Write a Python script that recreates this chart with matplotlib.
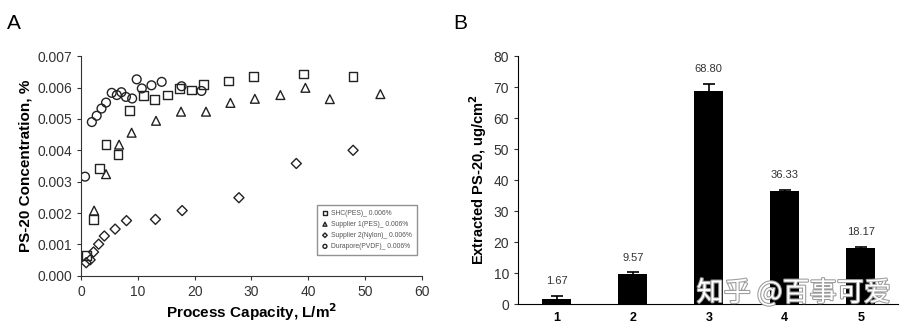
import matplotlib
matplotlib.use("Agg")
import matplotlib.pyplot as plt
import matplotlib.patheffects as pe
import numpy as np

plt.rcParams['font.family'] = ['Liberation Sans', 'DejaVu Sans']

# ---------------- Panel A data ----------------
shc_x = [0.9, 2.2, 3.2, 4.4, 6.5, 8.6, 11.0, 13.0, 15.2, 17.4, 19.4, 21.6, 26.0, 30.4, 39.1, 47.9]
shc_y = [0.00064, 0.00180, 0.00343, 0.00418, 0.00387, 0.00527, 0.00574, 0.00563, 0.00576, 0.00597,
         0.00592, 0.00610, 0.00621, 0.00636, 0.00643, 0.00635]

sup1_x = [2.3, 4.4, 6.7, 8.9, 13.2, 17.6, 22.0, 26.3, 30.6, 35.1, 39.5, 43.8, 52.7]
sup1_y = [0.00208, 0.00324, 0.00418, 0.00456, 0.00494, 0.00523, 0.00523, 0.00551, 0.00564,
          0.00576, 0.00599, 0.00563, 0.00579]

sup2_x = [0.9, 1.6, 2.2, 3.1, 4.1, 6.0, 8.0, 13.1, 17.8, 27.8, 37.9, 47.9]
sup2_y = [0.00042, 0.00051, 0.00076, 0.00101, 0.00127, 0.00149, 0.00176, 0.00180, 0.00208,
          0.00249, 0.00358, 0.00400]

dur_x = [0.7, 1.9, 2.75, 3.6, 4.4, 5.4, 6.3, 7.1, 7.9, 9.0, 9.8, 10.7, 12.4, 14.2, 17.7, 21.2]
dur_y = [0.00316, 0.00490, 0.00510, 0.00533, 0.00552, 0.00583, 0.00576, 0.00585, 0.00570,
         0.00565, 0.00626, 0.00597, 0.00607, 0.00618, 0.00604, 0.00589]

series_labels = ["SHC(PES)_ 0.006%", "Supplier 1(PES)_ 0.006%",
                 "Supplier 2(Nylon)_ 0.006%", "Durapore(PVDF)_ 0.006%"]

# ---------------- Panel B data ----------------
bar_cats = ["1", "2", "3", "4", "5"]
bar_vals = [1.67, 9.57, 68.80, 36.33, 18.17]
bar_errs = [0.9, 0.6, 2.2, 0.6, 0.3]
bar_labels = ["1.67", "9.57", "68.80", "36.33", "18.17"]

fig = plt.figure(figsize=(9.21, 3.34), dpi=100)

tick_color = '#333333'

# ---------------- Panel A ----------------
axA = fig.add_axes([0.088, 0.174, 0.370, 0.658])
mk = dict(facecolor='none', edgecolor='#222222', linewidths=1.0, s=40)
axA.scatter(shc_x, shc_y, marker='s', label=series_labels[0], **mk)
axA.scatter(sup1_x, sup1_y, marker='^', label=series_labels[1], **mk)
axA.scatter(sup2_x, sup2_y, marker='D', label=series_labels[2],
            facecolor='none', edgecolor='#222222', linewidths=1.0, s=26)
axA.scatter(dur_x, dur_y, marker='o', label=series_labels[3], **mk)
axA.set_xlim(0, 60)
axA.set_ylim(0, 0.007)
axA.set_xticks(np.arange(0, 61, 10))
axA.set_yticks(np.arange(0, 0.0071, 0.001))
axA.yaxis.set_major_formatter(matplotlib.ticker.FormatStrFormatter('%.3f'))
for s in ['top', 'right']:
    axA.spines[s].set_visible(False)
for s in ['left', 'bottom']:
    axA.spines[s].set_color('#333333')
axA.tick_params(direction='out', length=3, labelsize=10, colors=tick_color, labelcolor='#333333')
axA.set_xlabel("Process Capacity, L/m$^\\mathbf{2}$", fontsize=11, fontweight='bold', labelpad=2)
axA.set_ylabel("PS-20 Concentration, %", fontsize=11, fontweight='bold', labelpad=3)
leg = axA.legend(loc='lower right', bbox_to_anchor=(0.995, 0.08), fontsize=4.9, frameon=True,
                 fancybox=False, edgecolor='#777777', markerscale=0.45, handletextpad=0.4,
                 labelspacing=0.6, borderpad=0.7, handlelength=1.0)
leg.get_frame().set_linewidth(1.0)
for t in leg.get_texts():
    t.set_color('#555555')

fig.text(0.008, 0.93, "A", fontsize=15, ha='left', va='center')

# ---------------- Panel B ----------------
axB = fig.add_axes([0.5625, 0.0898, 0.4125, 0.7422])
pos = np.arange(1, len(bar_vals) + 1)
axB.bar(pos, bar_vals, width=0.38, color='black', yerr=bar_errs,
        error_kw=dict(ecolor='black', capsize=4, elinewidth=1.2, capthick=1.2))
for p, v, e, lab in zip(pos, bar_vals, bar_errs, bar_labels):
    axB.annotate(lab, (p, v + e), xytext=(0, 7), textcoords='offset points',
                 ha='center', va='bottom', fontsize=8, color='#333333')
axB.set_xlim(0.49, 5.49)
axB.set_ylim(0, 80)
axB.set_yticks(np.arange(0, 81, 10))
axB.set_xticks(pos)
axB.set_xticklabels(bar_cats, fontweight='bold')
for s in ['top', 'right']:
    axB.spines[s].set_visible(False)
axB.tick_params(axis='x', length=0, labelsize=9, pad=6)
axB.tick_params(axis='y', direction='out', length=3, labelsize=10, colors=tick_color,
                labelcolor='#333333')
axB.set_ylabel("Extracted PS-20, ug/cm$^\\mathbf{2}$", fontsize=10.5, fontweight='bold', labelpad=3)

fig.text(0.492, 0.93, "B", fontsize=15, ha='left', va='center')

# watermark
wm = fig.text(0.862, 0.123, "知乎 @百事可爱", fontsize=19.5, ha='center', va='center',
              color='white', family=['Noto Sans CJK SC', 'DejaVu Sans'])
wm.set_path_effects([pe.withStroke(linewidth=1.5, foreground='#9a9a9a')])

fig.savefig("out.png", dpi=100)
